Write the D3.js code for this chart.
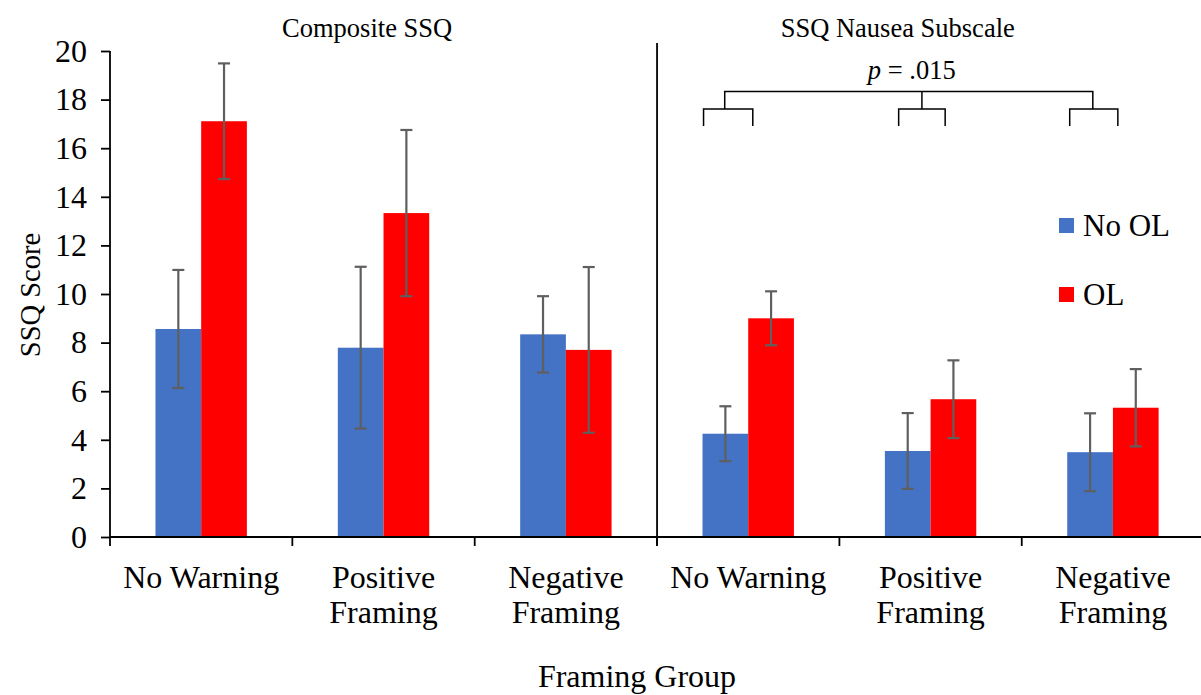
<!DOCTYPE html>
<html>
<head>
<meta charset="utf-8">
<script src="https://cdn.jsdelivr.net/npm/d3@7"></script>
<style>
  html, body { margin: 0; padding: 0; background: #fff; }
  svg { display: block; }
  svg text { font-family: "Liberation Serif", "Times New Roman", serif; }
</style>
</head>
<body>
<svg id="chart" width="1201" height="695"></svg>
<script>
// Panels and framing groups
const panels = ["Composite SSQ", "SSQ Nausea Subscale"];
const groups = ["No Warning", "Positive Framing", "Negative Framing"];
const groupLabelLines = [["No Warning"], ["Positive", "Framing"], ["Negative", "Framing"]];
const seriesNames = ["No OL", "OL"];
const seriesColors = ["#4472C4", "#FF0000"];

// Mean SSQ scores and error half-widths, per group
const compositeNoOL = [8.56, 7.79, 8.34];
const compositeOL = [17.11, 13.33, 7.70];
const compositeNoOLErr = [2.43, 3.33, 1.57];
const compositeOLErr = [2.38, 3.42, 3.41];
const nauseaNoOL = [4.25, 3.54, 3.49];
const nauseaOL = [9.00, 5.67, 5.32];
const nauseaNoOLErr = [1.13, 1.56, 1.60];
const nauseaOLErr = [1.11, 1.60, 1.59];

const yTicks = [0, 2, 4, 6, 8, 10, 12, 14, 16, 18, 20];

// Significance bracket over the nausea subscale (p = .015)
const sigLabel = ".015";
const sigTopLevel = 18.33;
const sigMidLevel = 17.61;
const sigLegLevel = 16.91;
// span of each small bracket within its category band (fraction of band width)
const sigSpans = [[0.255, 0.525], [0.325, 0.58], [0.263, 0.527]];

const svg = d3.select("#chart");
const left = 110, bandW = 182.35;

const keys = [];
panels.forEach((p, pi) => groups.forEach((g, gi) => keys.push(pi + "|" + gi)));

const x = d3.scaleBand().domain(keys).range([left, left + keys.length * bandW]).padding(0);
const xs = d3.scaleBand().domain(seriesNames)
  .range([x.bandwidth() / 2 - 45.7, x.bandwidth() / 2 + 45.7]).padding(0);
const y = d3.scaleLinear().domain([0, 20]).range([537, 51]);

// Flattened records for drawing
const panelValues = [[compositeNoOL, compositeOL], [nauseaNoOL, nauseaOL]];
const panelErrs = [[compositeNoOLErr, compositeOLErr], [nauseaNoOLErr, nauseaOLErr]];
const records = [];
panels.forEach((p, pi) => groups.forEach((g, gi) => seriesNames.forEach((s, si) => {
  records.push({ key: pi + "|" + gi, series: s, si,
    value: panelValues[pi][si][gi], err: panelErrs[pi][si][gi] });
})));

// Bars
svg.append("g").selectAll("rect").data(records).join("rect")
  .attr("x", d => x(d.key) + xs(d.series))
  .attr("width", xs.bandwidth())
  .attr("y", d => y(d.value))
  .attr("height", d => y(0) - y(d.value))
  .attr("fill", d => seriesColors[d.si]);

// Error bars
const eb = svg.append("g").attr("stroke", "#5f5f5f").attr("stroke-width", 2.2).attr("fill", "none");
records.forEach(d => {
  const cx = x(d.key) + xs(d.series) + xs.bandwidth() / 2;
  const y1 = y(d.value + d.err), y0 = y(d.value - d.err);
  eb.append("line").attr("x1", cx).attr("x2", cx).attr("y1", y1).attr("y2", y0);
  eb.append("line").attr("x1", cx - 6).attr("x2", cx + 6).attr("y1", y1).attr("y2", y1);
  eb.append("line").attr("x1", cx - 6).attr("x2", cx + 6).attr("y1", y0).attr("y2", y0);
});

// Y axis
const yAxis = svg.append("g").attr("transform", `translate(${left},0)`)
  .call(d3.axisLeft(y).tickValues(yTicks).tickSize(9).tickPadding(14).tickFormat(d3.format("d")));
yAxis.attr("font-family", null).attr("font-size", null);
yAxis.select(".domain").attr("d", `M0,${y(20)}V${y(0)}`).attr("stroke", "#000").attr("stroke-width", 1.8);
yAxis.selectAll(".tick line").attr("stroke", "#000").attr("stroke-width", 1.8);
yAxis.selectAll(".tick text").style("font-size", "32px").attr("fill", "#000");

// X axis with ticks at category boundaries
const xg = svg.append("g");
xg.append("line").attr("x1", left).attr("x2", x.range()[1]).attr("y1", y(0)).attr("y2", y(0))
  .attr("stroke", "#000").attr("stroke-width", 1.8);
const bounds = keys.map(k => x(k)).concat([x.range()[1]]);
xg.selectAll("line.tick").data(bounds).join("line").attr("class", "tick")
  .attr("x1", d => d).attr("x2", d => d).attr("y1", y(0)).attr("y2", y(0) + 9)
  .attr("stroke", "#000").attr("stroke-width", 1.8);

// Category labels
keys.forEach((k, i) => {
  const lines = groupLabelLines[i % groups.length];
  const t = svg.append("text").attr("text-anchor", "middle").style("font-size", "32px").attr("fill", "#000");
  lines.forEach((ln, li) => {
    t.append("tspan").attr("x", x(k) + x.bandwidth() / 2).attr("y", 588 + li * 35).text(ln);
  });
});

// Panel divider
const divX = x("1|0");
svg.append("line").attr("x1", divX).attr("x2", divX).attr("y1", 43).attr("y2", y(0) + 9)
  .attr("stroke", "#000").attr("stroke-width", 1.8);

// Panel titles, set slightly left of each panel's centre
const titleAt = [0.47, 0.44];
panels.forEach((p, pi) => {
  const a = x(pi + "|0"), b = x(pi + "|2") + x.bandwidth();
  svg.append("text").attr("x", a + (b - a) * titleAt[pi]).attr("y", 37).attr("text-anchor", "middle")
    .style("font-size", "26.5px").attr("fill", "#000").text(p);
});

// Axis titles
svg.append("text").attr("x", 637).attr("y", 687).attr("text-anchor", "middle")
  .style("font-size", "32px").attr("fill", "#000").text("Framing Group");
svg.append("text").attr("transform", "translate(40,295) rotate(-90)").attr("text-anchor", "middle")
  .style("font-size", "28.5px").attr("fill", "#000").text("SSQ Score");

// Legend
const lg = svg.append("g").attr("transform", "translate(1059,218)");
seriesNames.forEach((s, i) => {
  lg.append("rect").attr("x", 0).attr("y", i * 69).attr("width", 15).attr("height", 15).attr("fill", seriesColors[i]);
  lg.append("text").attr("x", 24).attr("y", i * 69 + 18).style("font-size", "31px").attr("fill", "#000").text(s);
});

// Significance bracket
const sg = svg.append("g").attr("stroke", "#000").attr("stroke-width", 1.5).attr("fill", "none");
const nauseaKeys = ["1|0", "1|1", "1|2"];
const spanX = nauseaKeys.map((k, i) => sigSpans[i].map(f => x(k) + f * x.bandwidth()));
const dropX = [
  spanX[0][0] + (spanX[0][1] - spanX[0][0]) * 0.43,
  (spanX[1][0] + spanX[1][1]) / 2,
  spanX[2][0] + (spanX[2][1] - spanX[2][0]) * 0.48
];
spanX.forEach(([a, b]) => {
  sg.append("path").attr("d", `M${a},${y(sigLegLevel)}V${y(sigMidLevel)}H${b}V${y(sigLegLevel)}`);
});
sg.append("path").attr("d",
  `M${dropX[0]},${y(sigMidLevel)}V${y(sigTopLevel)}H${dropX[2]}V${y(sigMidLevel)}`);
sg.append("path").attr("d", `M${dropX[1]},${y(sigTopLevel)}V${y(sigMidLevel)}`);

const pt = svg.append("text").attr("x", (dropX[0] + dropX[2]) / 2 + 3).attr("y", 79)
  .attr("text-anchor", "middle").style("font-size", "26.5px").attr("fill", "#000");
pt.append("tspan").attr("font-style", "italic").text("p");
pt.append("tspan").text(" = " + sigLabel);
</script>
</body>
</html>
